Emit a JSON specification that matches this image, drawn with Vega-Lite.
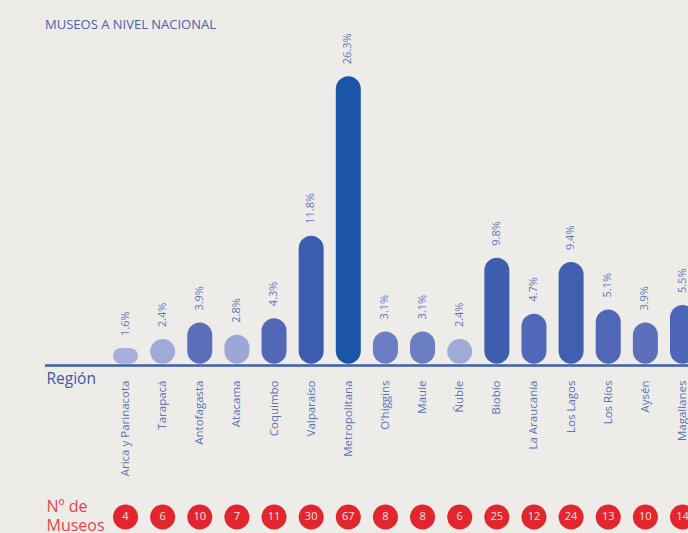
{
  "$schema": "https://vega.github.io/schema/vega-lite/v6.json",
  "width": 643,
  "height": 315.5,
  "autosize": {"type": "none"},
  "padding": {"left": 45, "top": 50, "right": 0, "bottom": 167.5},
  "background": "#eeece9",
  "config": {"view": {"stroke": null}, "font": "Open Sans"},
  "title": {"text": "MUSEOS A NIVEL NACIONAL", "anchor": "start", "frame": "group", "fontSize": 13, "fontWeight": "normal", "color": "#4a62ae", "offset": 1},
  "data": {"values": [
    {"region": "Arica y Parinacota", "pct": 0.016, "n": 4},
    {"region": "Tarapacá", "pct": 0.024, "n": 6},
    {"region": "Antofagasta", "pct": 0.039, "n": 10},
    {"region": "Atacama", "pct": 0.028, "n": 7},
    {"region": "Coquimbo", "pct": 0.043, "n": 11},
    {"region": "Valparaíso", "pct": 0.118, "n": 30},
    {"region": "Metropolitana", "pct": 0.263, "n": 67},
    {"region": "O'higgins", "pct": 0.031, "n": 8},
    {"region": "Maule", "pct": 0.031, "n": 8},
    {"region": "Ñuble", "pct": 0.024, "n": 6},
    {"region": "Biobío", "pct": 0.098, "n": 25},
    {"region": "La Araucanía", "pct": 0.047, "n": 12},
    {"region": "Los Lagos", "pct": 0.094, "n": 24},
    {"region": "Los Ríos", "pct": 0.051, "n": 13},
    {"region": "Aysén", "pct": 0.039, "n": 10},
    {"region": "Magallanes", "pct": 0.055, "n": 14}
  ]},
  "layer": [
    {
      "data": {"values": [{}]},
      "mark": {"type": "rule", "color": "#3f5ea9", "strokeWidth": 2.5},
      "encoding": {"y": {"datum": 0}}
    },
    {
      "mark": {"type": "bar", "width": 25, "cornerRadius": 12.5},
      "encoding": {
        "x": {"field": "region", "type": "nominal", "sort": null,
              "scale": {"type": "point", "range": [80.5, 637.5], "padding": 0},
              "axis": {"title": "Región", "titleX": 1, "titleY": 13, "titleAlign": "left", "titleBaseline": "middle", "titleFontSize": 15.5, "titleFontWeight": "normal", "titleColor": "#3b59a8", "titleAngle": 0,
                       "domain": false, "ticks": false, "labelAngle": 270, "labelAlign": "right", "labelBaseline": "middle", "labelPadding": 14.5, "labelFontSize": 11.5, "labelColor": "#5b70b8", "labelLimit": 0, "labelOverlap": false, "labelFlush": false}},
        "y": {"field": "pct", "type": "quantitative", "scale": {"domain": [0, 0.2868], "nice": false, "zero": false},
              "axis": {"title": ["Nº de", "Museos"], "titleX": 1, "titleY": 461, "titleAngle": 0, "titleAlign": "left", "titleBaseline": "alphabetic", "titleLineHeight": 19, "titleFontSize": 16, "titleFontWeight": "normal", "titleColor": "#e54548",
                       "domain": false, "ticks": false, "labels": false, "grid": false}},
        "y2": {"datum": 0.0015},
        "color": {"field": "pct", "type": "quantitative", "legend": null,
                  "scale": {"domain": [0.016, 0.028, 0.031, 0.043, 0.1, 0.263], "range": ["#a7b0da", "#9da7d5", "#6c7ec3", "#5268b7", "#3f5eb0", "#1b55a6"]}}
      }
    },
    {
      "mark": {"type": "text", "angle": 270, "align": "left", "baseline": "middle", "dx": 12, "fontSize": 11, "color": "#6274ba"},
      "encoding": {
        "x": {"field": "region", "type": "nominal", "sort": null, "scale": {"type": "point", "range": [80.5, 637.5], "padding": 0}},
        "y": {"field": "pct", "type": "quantitative"},
        "text": {"field": "pct", "format": ".1%"}
      }
    },
    {
      "mark": {"type": "point", "shape": "circle", "filled": true, "size": 625, "color": "#e3262d", "opacity": 1},
      "encoding": {
        "x": {"field": "region", "type": "nominal", "sort": null, "scale": {"type": "point", "range": [80.5, 637.5], "padding": 0}},
        "y": {"datum": -0.1377}
      }
    },
    {
      "mark": {"type": "text", "align": "center", "baseline": "middle", "fontSize": 11, "color": "#fde4e1"},
      "encoding": {
        "x": {"field": "region", "type": "nominal", "sort": null, "scale": {"type": "point", "range": [80.5, 637.5], "padding": 0}},
        "y": {"datum": -0.1377},
        "text": {"field": "n"}
      }
    }
  ]
}
